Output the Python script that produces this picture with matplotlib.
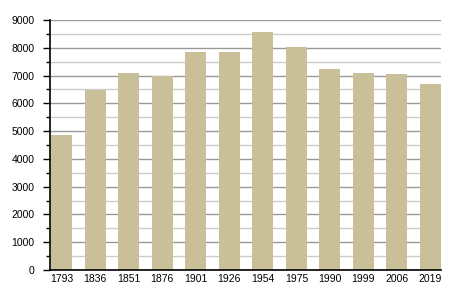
import matplotlib
matplotlib.use("Agg")
import matplotlib.pyplot as plt
from matplotlib.ticker import MultipleLocator

years = ["1793", "1836", "1851", "1876", "1901", "1926", "1954", "1975", "1990", "1999", "2006", "2019"]
population = [4850, 6480, 7080, 7000, 7830, 7830, 8580, 8040, 7250, 7100, 7070, 6700]

plt.rcParams['font.family'] = ['Liberation Sans', 'DejaVu Sans']

fig = plt.figure(figsize=(4.5, 3), dpi=100)
ax = fig.add_axes([50/450, 30/300, 391/450, 250/300])

x = list(range(len(years)))
w = 0.63
ax.bar(x, population, width=w, color="#c9bf99", zorder=3)

ax.set_xlim(-w/2 - 0.035, len(years) - 1 + w/2)
ax.set_ylim(0, 9000)
ax.yaxis.set_major_locator(MultipleLocator(1000))
ax.yaxis.set_minor_locator(MultipleLocator(500))
ax.grid(axis='y', which='major', color='#999999', linewidth=1.0, zorder=0)
ax.grid(axis='y', which='minor', color='#cccccc', linewidth=1.0, zorder=0)

ax.set_xticks(x)
ax.set_xticklabels(years)
ax.tick_params(axis='x', length=0, labelsize=7.5, pad=3)
ax.tick_params(axis='y', which='major', length=5, width=1, labelsize=7.5, pad=6)
ax.tick_params(axis='y', which='minor', length=3, width=1)

for s in ['top', 'right']:
    ax.spines[s].set_visible(False)
for s in ['left', 'bottom']:
    ax.spines[s].set_color('black')
    ax.spines[s].set_linewidth(1.2)
    ax.spines[s].set_zorder(4)

fig.savefig("out.png", dpi=100)
